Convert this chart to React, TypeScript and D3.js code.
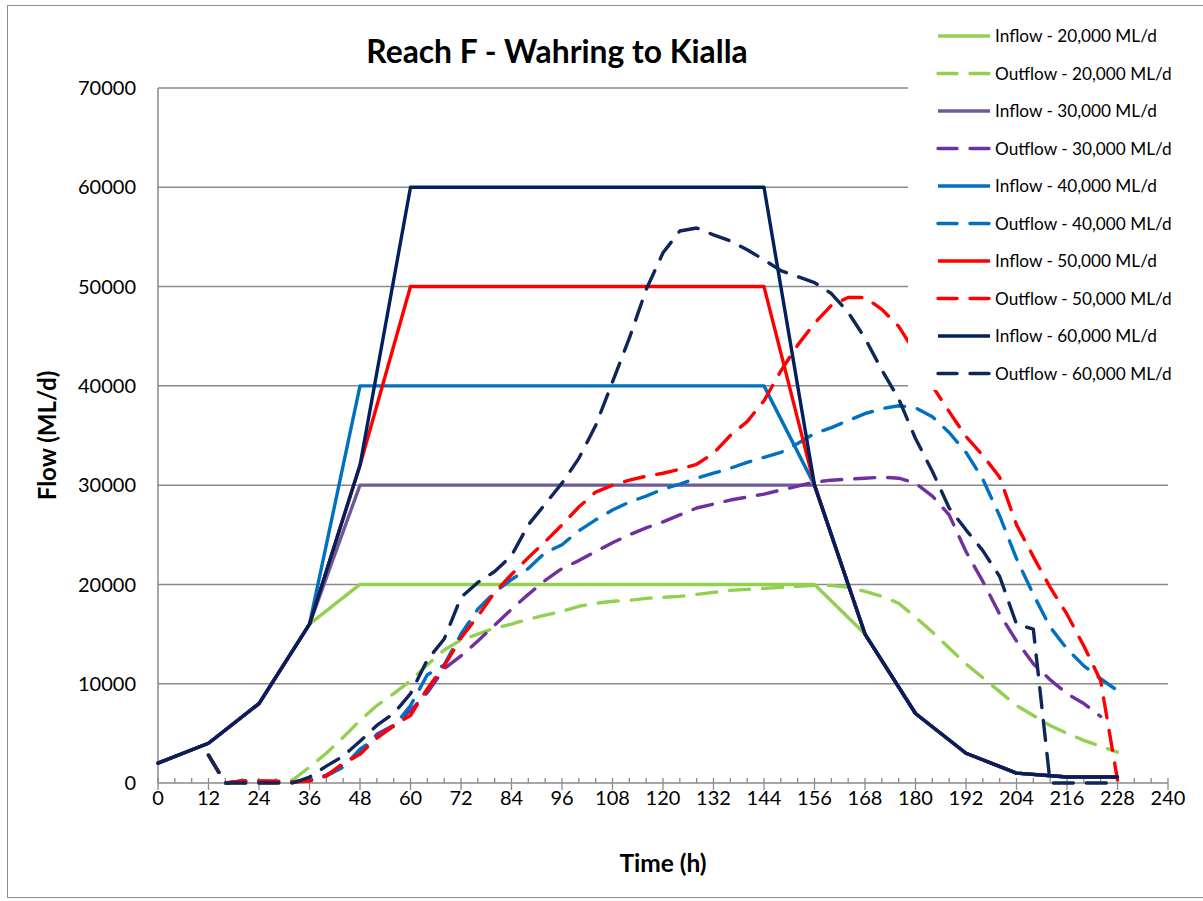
import React from "react";
import * as d3 from "d3";

// ---------- DATA ----------
const inflowTimes = [0, 12, 24, 36, 48, 60, 72, 84, 96, 108, 120, 132, 144, 156, 168, 180, 192, 204, 216, 228];

const inflow20 = [2000, 4000, 8000, 16000, 20000, 20000, 20000, 20000, 20000, 20000, 20000, 20000, 20000, 20000, 15000, 7000, 3000, 1000, 600, 600];
const inflow30 = [2000, 4000, 8000, 16000, 30000, 30000, 30000, 30000, 30000, 30000, 30000, 30000, 30000, 30000, 15000, 7000, 3000, 1000, 600, 600];
const inflow40 = [2000, 4000, 8000, 16000, 40000, 40000, 40000, 40000, 40000, 40000, 40000, 40000, 40000, 30000, 15000, 7000, 3000, 1000, 600, 600];
const inflow50 = [2000, 4000, 8000, 16000, 32000, 50000, 50000, 50000, 50000, 50000, 50000, 50000, 50000, 30000, 15000, 7000, 3000, 1000, 600, 600];
const inflow60 = [2000, 4000, 8000, 16000, 32000, 60000, 60000, 60000, 60000, 60000, 60000, 60000, 60000, 30000, 15000, 7000, 3000, 1000, 600, 600];

const outflowTimes = [
  12, 16, 20, 24, 28, 32, 36, 40, 44, 48, 52, 56, 60, 64, 68, 72, 76, 80, 84, 88,
  92, 96, 100, 104, 108, 112, 116, 120, 124, 128, 132, 136, 140, 144, 148, 152, 156, 160, 164, 168,
  172, 176, 180, 184, 188, 192, 196, 200, 204, 208, 212, 216, 220, 224, 228,
];

const outflow20 = [
  2800, 0, 0, 0, 0, 300, 1600, 3000, 4600, 6300, 7800, 9000, 10300, 11900, 13400, 14400, 15000, 15600, 16000, 16500,
  16900, 17300, 17800, 18100, 18300, 18400, 18600, 18700, 18800, 19000, 19200, 19400, 19500, 19600, 19700, 19800, 19900, 19900, 19700, 19300,
  18800, 18100, 16700, 15200, 13600, 12000, 10600, 9200, 7800, 6800, 5800, 5000, 4300, 3700, 3100,
];
const outflow30 = [
  2800, 0, 200, 200, 100, 100, 300, 800, 1800, 3000, 4900, 5800, 7300, 9100, 11500, 12800, 14300, 15900, 17500, 19000,
  20400, 21600, 22400, 23300, 24200, 25000, 25700, 26300, 27000, 27700, 28100, 28500, 28800, 29100, 29500, 29900, 30300, 30500, 30600, 30700,
  30800, 30700, 30200, 28900, 27000, 23300, 20300, 17000, 14300, 12000, 10400, 9000, 8000, 6700, null,
];
const outflow40 = [
  2800, 0, 200, 100, 100, 100, 300, 700, 1600, 3400, 4600, 5700, 7800, 10900, 11900, 15000, 17500, 19200, 20500, 21600,
  23200, 24000, 25400, 26500, 27500, 28300, 28900, 29600, 30100, 30700, 31200, 31700, 32300, 32800, 33300, 34200, 35200, 35800, 36500, 37200,
  37700, 38000, 37800, 36900, 35300, 33300, 30600, 26900, 22600, 19000, 15700, 13500, 11800, 10500, 9300,
];
const outflow50 = [
  2800, 0, 200, 200, 200, 100, 200, 700, 2000, 2900, 4500, 5800, 6800, 9500, 11800, 14600, 16800, 19200, 21000, 22700,
  24300, 26000, 27800, 29300, 30000, 30500, 30900, 31200, 31600, 32100, 33200, 35000, 36400, 38500, 41500, 44100, 46300, 48100, 48900, 48900,
  47700, 46000, 43300, 40000, 37400, 34900, 33000, 30800, 26000, 22800, 19700, 17000, 13800, 10300, 300,
];
const outflow60 = [
  2800, 0, 0, 0, 0, 0, 600, 1700, 2700, 4200, 5800, 7000, 9000, 12400, 14500, 18700, 20200, 21300, 22900, 26000,
  28100, 30200, 32700, 36000, 40400, 44800, 49700, 53400, 55600, 55900, 55200, 54600, 53700, 52700, 51600, 51000, 50400, 49300, 47400, 44800,
  41600, 38700, 34700, 31400, 27700, 25500, 23400, 20800, 16000, 15500, 0, 0, 0, 0, 0,
];

const seriesLabels = [
  "Inflow - 20,000 ML/d",
  "Outflow - 20,000 ML/d",
  "Inflow - 30,000 ML/d",
  "Outflow - 30,000 ML/d",
  "Inflow - 40,000 ML/d",
  "Outflow - 40,000 ML/d",
  "Inflow - 50,000 ML/d",
  "Outflow - 50,000 ML/d",
  "Inflow - 60,000 ML/d",
  "Outflow - 60,000 ML/d",
];

const yTicks = [0, 10000, 20000, 30000, 40000, 50000, 60000, 70000];
const xTicks = [0, 12, 24, 36, 48, 60, 72, 84, 96, 108, 120, 132, 144, 156, 168, 180, 192, 204, 216, 228, 240];

const titleText = "Reach F - Wahring to Kialla";
const xTitle = "Time (h)";
const yTitle = "Flow (ML/d)";

// ---------- STYLES ----------
const seriesColors = ["#92D050", "#92D050", "#6E5A99", "#7030A0", "#0070C0", "#0070C0", "#FF0000", "#FF0000", "#002060", "#0F2659"];
const FONT = "Lato, 'Open Sans', sans-serif";

export default function App() {
  const W = 1203;
  const H = 901;
  const x = d3.scaleLinear().domain([0, 240]).range([158, 1168]);
  const y = d3.scaleLinear().domain([0, 70000]).range([783, 88]);

  const seriesData: { t: number[]; v: (number | null)[]; dashed: boolean }[] = [
    { t: inflowTimes, v: inflow20, dashed: false },
    { t: outflowTimes, v: outflow20, dashed: true },
    { t: inflowTimes, v: inflow30, dashed: false },
    { t: outflowTimes, v: outflow30, dashed: true },
    { t: inflowTimes, v: inflow40, dashed: false },
    { t: outflowTimes, v: outflow40, dashed: true },
    { t: inflowTimes, v: inflow50, dashed: false },
    { t: outflowTimes, v: outflow50, dashed: true },
    { t: inflowTimes, v: inflow60, dashed: false },
    { t: outflowTimes, v: outflow60, dashed: true },
  ];

  const line = d3
    .line<[number, number | null]>()
    .defined((d) => d[1] !== null)
    .x((d) => x(d[0]))
    .y((d) => y(d[1] as number));

  const minorTicks = d3.range(0, 241, 4).filter((t) => t % 12 !== 0);

  const legendX0 = 938;
  const legendX1 = 990;
  const legendY0 = 36;
  const legendStep = 37.5;

  return (
    <svg
      width={W}
      height={H}
      style={{ position: "absolute", left: 0, top: 0, background: "#fff" }}
      fontFamily={FONT}
    >
      <rect x={0} y={0} width={W} height={H} fill="#fff" />
      <rect x={7.5} y={5.5} width={1210} height={892} fill="none" stroke="#8c8c8c" strokeWidth={1} />

      {/* gridlines */}
      {yTicks.slice(1).map((v) => (
        <line key={"g" + v} x1={x(0)} x2={x(240)} y1={y(v)} y2={y(v)} stroke="#8a8a8a" strokeWidth={1.5} />
      ))}
      {/* axes */}
      <line x1={x(0)} x2={x(0)} y1={y(70000)} y2={y(0)} stroke="#8a8a8a" strokeWidth={1.5} />
      <line x1={x(0)} x2={x(240)} y1={y(0)} y2={y(0)} stroke="#8a8a8a" strokeWidth={1.5} />
      {minorTicks.map((t) => (
        <line key={"m" + t} x1={x(t)} x2={x(t)} y1={y(0) - 5} y2={y(0)} stroke="#8a8a8a" strokeWidth={1.3} />
      ))}
      {xTicks.map((t) => (
        <line key={"M" + t} x1={x(t)} x2={x(t)} y1={y(0) - 5} y2={y(0) + 7} stroke="#8a8a8a" strokeWidth={1.3} />
      ))}

      {/* tick labels */}
      {yTicks.map((v) => (
        <text key={"yl" + v} x={136} y={y(v)} dy="0.36em" textAnchor="end" fontSize={20} fill="#000">
          {v}
        </text>
      ))}
      {xTicks.map((t) => (
        <text key={"xl" + t} x={x(t)} y={805} textAnchor="middle" fontSize={20} fill="#000">
          {t}
        </text>
      ))}

      {/* series */}
      {seriesData.map((s, i) => {
        const pts = s.t.map((t, j) => [t, s.v[j]] as [number, number | null]);
        return (
          <path
            key={"s" + i}
            d={line(pts) || ""}
            fill="none"
            stroke={seriesColors[i]}
            strokeWidth={3.4}
            strokeLinejoin="round"
            strokeLinecap="round"
            strokeDasharray={s.dashed ? "20 13" : undefined}
          />
        );
      })}

      {/* legend */}
      <rect x={908} y={18} width={300} height={372} fill="#fff" />
      {seriesLabels.map((lab, i) => {
        const ly = legendY0 + i * legendStep;
        const dashed = seriesData[i].dashed;
        return (
          <g key={"lg" + i}>
            <line
              x1={legendX0}
              x2={legendX1}
              y1={ly}
              y2={ly}
              stroke={seriesColors[i]}
              strokeWidth={3.4}
              strokeLinecap={dashed ? "round" : "butt"}
              strokeDasharray={dashed ? "19 13" : undefined}
            />
            <text x={995} y={ly} dy="0.36em" fontSize={17.2} fill="#000">
              {lab}
            </text>
          </g>
        );
      })}

      {/* titles */}
      <text x={557} y={63} textAnchor="middle" fontSize={31.8} fontWeight="bold" fill="#000">
        {titleText}
      </text>
      <text x={663} y={872} textAnchor="middle" fontSize={24.5} fontWeight="bold" fill="#000">
        {xTitle}
      </text>
      <text
        transform={`translate(56, ${y(35000)}) rotate(-90)`}
        textAnchor="middle"
        fontSize={24}
        fontWeight="bold"
        fill="#000"
      >
        {yTitle}
      </text>
    </svg>
  );
}
